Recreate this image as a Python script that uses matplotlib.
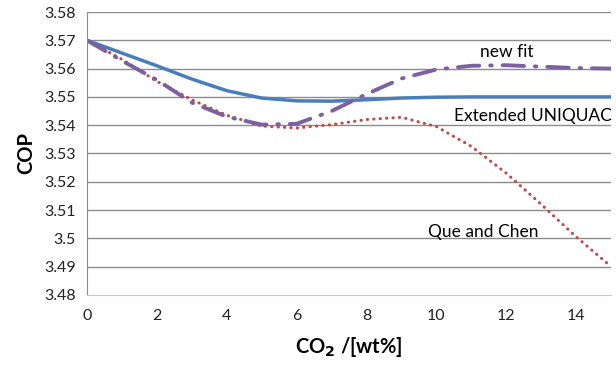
import matplotlib
matplotlib.use("Agg")
import matplotlib.pyplot as plt
import numpy as np

# CO2 content [wt%]
co2 = [0, 1, 2, 3, 4, 5, 6, 7, 8, 9, 10, 11, 12, 13, 14, 15]

cop_uniquac = [3.570, 3.5655, 3.561, 3.5563, 3.5522, 3.5496, 3.5486, 3.5485,
               3.549, 3.5496, 3.5499, 3.550, 3.550, 3.550, 3.550, 3.550]
cop_quechen = [3.570, 3.5633, 3.5555, 3.549, 3.5435, 3.5397, 3.539, 3.5402,
               3.542, 3.5428, 3.5395, 3.5325, 3.523, 3.512, 3.5005, 3.490]
cop_newfit = [3.570, 3.5628, 3.556, 3.548, 3.543, 3.5402, 3.5405, 3.545,
              3.551, 3.5565, 3.5597, 3.561, 3.5612, 3.5607, 3.5602, 3.560]

yticks = [3.48, 3.49, 3.5, 3.51, 3.52, 3.53, 3.54, 3.55, 3.56, 3.57, 3.58]
ytick_labels = ["3.48", "3.49", "3.5", "3.51", "3.52", "3.53", "3.54",
                "3.55", "3.56", "3.57", "3.58"]
xticks = [0, 2, 4, 6, 8, 10, 12, 14]

plt.rcParams['font.family'] = ['Lato', 'DejaVu Sans']

fig = plt.figure(figsize=(6.16, 3.65), dpi=100)
ax = fig.add_axes([0.1412, 0.192, 0.851, 0.775])

for y in yticks[1:]:
    ax.axhline(y, color="#8c8c8c", lw=1.0, zorder=0)

ax.plot(co2, cop_uniquac, color="#4a7ebb", lw=2.5, solid_capstyle="round")
ax.plot(co2, cop_quechen, color="#be4b48", lw=2.2, linestyle=(0, (0.1, 2.0)),
        dash_capstyle="round")
ax.plot(co2, cop_newfit, color="#7d60a0", lw=2.8,
        linestyle=(0, (5.5, 2.8, 0.4, 2.8)), dash_capstyle="round")

ax.text(11.26, 3.5659, "new fit", fontsize=12.5, va="center", ha="left")
ax.text(10.49, 3.5433, "Extended UNIQUAC", fontsize=12.5, va="center", ha="left")
ax.text(9.77, 3.5022, "Que and Chen", fontsize=12.5, va="center", ha="left")

ax.set_xlim(0, 15)
ax.set_ylim(3.48, 3.58)
ax.set_xticks(xticks)
ax.set_yticks(yticks)
ax.set_yticklabels(ytick_labels)
ax.tick_params(length=0, labelsize=11.5, colors="#222222")
ax.tick_params(axis="y", pad=8)
ax.tick_params(axis="x", pad=10)

for s in ["top", "right"]:
    ax.spines[s].set_visible(False)
ax.spines["left"].set_color("#8c8c8c")
ax.spines["bottom"].set_color("#c8c8c8")

ax.set_xlabel("CO$_\\mathbf{2}$ /[wt%]", fontsize=14.5, fontweight="bold", labelpad=9)
ax.set_ylabel("COP", fontsize=14.5, fontweight="bold", labelpad=6)

fig.savefig("out.png", dpi=100)
